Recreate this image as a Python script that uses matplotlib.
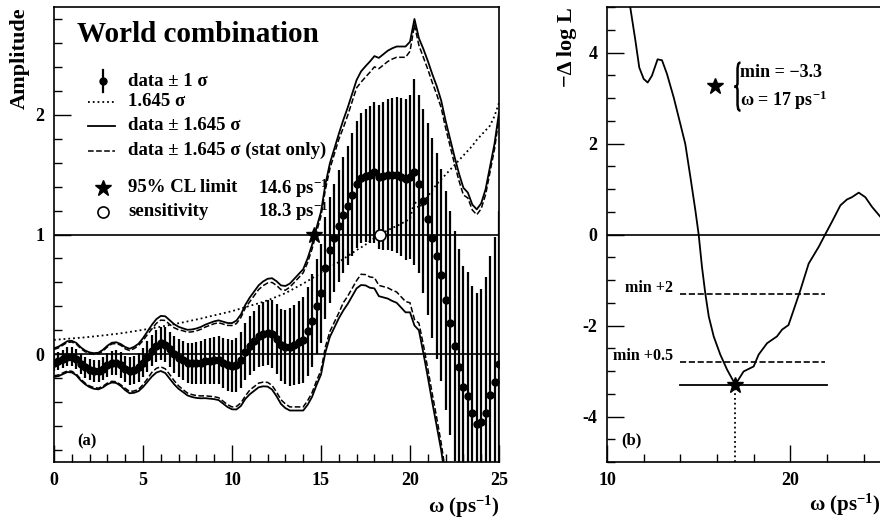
import numpy as np
import matplotlib
matplotlib.use('Agg')
import matplotlib.pyplot as plt
from matplotlib.path import Path
from matplotlib.patches import PathPatch
from matplotlib.transforms import Affine2D

plt.rcParams['font.family'] = 'Liberation Serif'
plt.rcParams['font.weight'] = 'bold'
plt.rcParams['axes.labelweight'] = 'bold'
plt.rcParams['mathtext.fontset'] = 'custom'
plt.rcParams['mathtext.rm'] = 'Liberation Serif:bold'
plt.rcParams['mathtext.it'] = 'Liberation Serif:bold'
plt.rcParams['mathtext.bf'] = 'Liberation Serif:bold'
plt.rcParams['mathtext.default'] = 'rm'
plt.rcParams['axes.unicode_minus'] = False

# --- panel (a): amplitude scan, one point every 0.25 ps^-1 ---
omega = np.linspace(0, 25, 101)
amplitude = [
    -0.07, -0.06, -0.04, -0.02, -0.02, -0.04, -0.08, -0.11, -0.13, -0.14,
    -0.14, -0.12, -0.09, -0.07, -0.07, -0.09, -0.12, -0.14, -0.13, -0.11,
    -0.07, -0.02, 0.03, 0.07, 0.09, 0.08, 0.04, 0.00, -0.03, -0.05,
    -0.07, -0.075, -0.075, -0.07, -0.06, -0.055, -0.05, -0.05, -0.07, -0.09,
    -0.10, -0.09, -0.05, 0.02, 0.07, 0.11, 0.15, 0.17, 0.18, 0.17,
    0.13, 0.08, 0.06, 0.06, 0.08, 0.10, 0.12, 0.19, 0.28, 0.40,
    0.51, 0.72, 0.87, 0.97, 1.07, 1.16, 1.24, 1.33, 1.42, 1.47,
    1.49, 1.50, 1.52, 1.48, 1.49, 1.50, 1.50, 1.50, 1.48, 1.46,
    1.48, 1.52, 1.42, 1.28, 1.13, 0.97, 0.82, 0.66, 0.45, 0.26,
    0.07, -0.11, -0.27, -0.35, -0.49, -0.58, -0.57, -0.49, -0.34, -0.23,
    -0.08,
]
# 1.645 sigma (total) and 1.645 sigma (stat only)
sens = [
    0.120, 0.123, 0.126, 0.129, 0.132, 0.135, 0.138, 0.141, 0.145, 0.149,
    0.153, 0.157, 0.161, 0.166, 0.170, 0.175, 0.180, 0.186, 0.192, 0.198,
    0.204, 0.210, 0.216, 0.223, 0.230, 0.237, 0.244, 0.251, 0.259, 0.266,
    0.274, 0.282, 0.290, 0.298, 0.307, 0.316, 0.325, 0.333, 0.342, 0.351,
    0.360, 0.371, 0.382, 0.393, 0.404, 0.415, 0.426, 0.438, 0.450, 0.465,
    0.480, 0.495, 0.510, 0.530, 0.550, 0.570, 0.590, 0.612, 0.635, 0.657,
    0.680, 0.702, 0.725, 0.747, 0.770, 0.795, 0.820, 0.845, 0.870, 0.892,
    0.915, 0.945, 0.970, 0.995, 1.015, 1.035, 1.055, 1.070, 1.090, 1.110,
    1.130, 1.280, 1.220, 1.270, 1.320, 1.370, 1.420, 1.460, 1.500, 1.540,
    1.580, 1.620, 1.660, 1.700, 1.740, 1.790, 1.830, 1.870, 1.910, 1.990,
    2.100,
]
sens_stat = [
    0.110, 0.113, 0.116, 0.119, 0.122, 0.125, 0.128, 0.131, 0.135, 0.139,
    0.143, 0.147, 0.151, 0.156, 0.160, 0.165, 0.165, 0.171, 0.177, 0.183,
    0.184, 0.185, 0.181, 0.188, 0.195, 0.202, 0.209, 0.221, 0.234, 0.246,
    0.254, 0.262, 0.270, 0.278, 0.287, 0.296, 0.305, 0.313, 0.322, 0.331,
    0.340, 0.346, 0.357, 0.368, 0.369, 0.380, 0.391, 0.403, 0.415, 0.430,
    0.445, 0.460, 0.475, 0.500, 0.520, 0.540, 0.560, 0.577, 0.600, 0.622,
    0.645, 0.657, 0.680, 0.702, 0.725, 0.730, 0.755, 0.780, 0.805, 0.802,
    0.825, 0.855, 0.880, 0.905, 0.925, 0.945, 0.965, 0.980, 1.000, 1.020,
    1.050, 1.230, 1.160, 1.200, 1.250, 1.300, 1.350, 1.400, 1.440, 1.480,
    1.520, 1.560, 1.600, 1.655, 1.695, 1.745, 1.785, 1.825, 1.865, 1.945,
    2.055,
]
limit_95 = 14.6
sensitivity = 18.3

# --- panel (b): likelihood scan ---
omega_b = [11.1, 11.27, 11.55, 11.76, 12.0, 12.22, 12.45, 12.76, 13.0, 13.27,
           13.64, 14.0, 14.27, 14.55, 14.82, 15.0, 15.18, 15.36, 15.55, 15.82,
           16.18, 16.55, 17.0, 17.45, 18.0, 18.27, 18.73, 19.27, 19.55, 19.9,
           20.18, 20.55, 21.0, 21.55, 21.9, 22.27, 22.73, 23.09, 23.36, 23.73,
           24.09, 24.45, 24.91, 25.0]
nll = [5.6, 4.99, 4.26, 3.67, 3.42, 3.34, 3.49, 3.85, 3.83, 3.53,
       3.01, 2.43, 1.99, 1.26, 0.53, 0.0, -0.71, -1.29, -1.80, -2.24,
       -2.64, -2.97, -3.30, -3.01, -2.90, -2.64, -2.39, -2.24, -2.09, -1.99,
       -1.66, -1.22, -0.64, -0.27, 0.0, 0.28, 0.64, 0.77, 0.82, 0.92,
       0.82, 0.61, 0.39, 0.34]
nll_min = -3.3
omega_min = 17.0

amp = np.array(amplitude)
s_tot = np.array(sens)
s_stat = np.array(sens_stat)
sigma = s_tot / 1.645

fig = plt.figure(figsize=(8.8, 5.24), dpi=100)
ax1 = fig.add_axes([54 / 880, 62 / 524, 445 / 880, 455 / 524])
ax2 = fig.add_axes([607 / 880, 62 / 524, 275 / 880, 455 / 524])

for ax in (ax1, ax2):
    ax.tick_params(which='both', direction='in', top=False, right=False,
                   labelsize=13, width=1)
    ax.tick_params(which='major', length=12, pad=7)
    ax.tick_params(which='minor', length=6)
    for sp in ax.spines.values():
        sp.set_linewidth(1.2)

# panel (a)
ax1.axhline(0, color='k', lw=1.2)
ax1.axhline(1, color='k', lw=1.2)
ax1.errorbar(omega, amp, yerr=sigma, fmt='o', color='k', ms=5,
             elinewidth=1.6, capsize=0)
ax1.plot(omega, s_tot, ':', color='k', lw=1.3)
ax1.plot(omega, amp + s_tot, '-', color='k', lw=1.3)
ax1.plot(omega, amp - s_tot, '-', color='k', lw=1.3)
ax1.plot(omega, amp + s_stat, '--', color='k', lw=1.1)
ax1.plot(omega, amp - s_stat, '--', color='k', lw=1.1)
ax1.plot([limit_95], [1], marker='*', color='k', ms=12)
ax1.plot([sensitivity], [1], marker='o', mfc='white', mec='k', mew=1.2, ms=8)

ax1.set_xlim(0, 25)
ax1.set_ylim(-0.9, 2.9)
ax1.set_xticks([0, 5, 10, 15, 20, 25])
ax1.set_xticks(np.arange(0, 26, 1), minor=True)
ax1.set_yticks([0, 1, 2])
ax1.set_yticks(np.arange(-0.8, 2.9, 0.2), minor=True)
ax1.set_xlabel(r'ω (ps$^{-1}$)', fontsize=15, loc='right')
ax1.set_ylabel('Amplitude', fontsize=16, loc='top')

ax1.text(1.3, 2.67, 'World combination', fontsize=21, va='center')
ax1.text(1.3, -0.73, '(a)', fontsize=12, va='center')

# hand-built legend, ROOT style
rows = [2.28, 2.11, 1.91, 1.70, 1.39, 1.19]
tx, mx = 4.16, 2.75
ax1.plot([mx, mx], [rows[0] - 0.09, rows[0] + 0.09], color='k', lw=1.6)
ax1.plot([mx], [rows[0]], 'o', color='k', ms=5)
ax1.plot([1.9, 3.45], [rows[1]] * 2, ':', color='k', lw=1.3)
ax1.plot([1.9, 3.45], [rows[2]] * 2, '-', color='k', lw=1.3)
ax1.plot([1.9, 3.45], [rows[3]] * 2, '--', color='k', lw=1.1)
ax1.plot([mx], [rows[4]], '*', color='k', ms=12)
ax1.plot([mx], [rows[5]], 'o', mfc='white', mec='k', mew=1.2, ms=8)
labels = ['data ± 1 σ', '1.645 σ', 'data ± 1.645 σ',
          'data ± 1.645 σ (stat only)', '95% CL limit', 'sensitivity']
for y, lab in zip(rows, labels):
    ax1.text(tx, y, lab, fontsize=13.5, va='center')
ax1.text(11.46, rows[4], r'%.1f ps$^{-1}$' % limit_95, fontsize=13.5, va='center')
ax1.text(11.46, rows[5], r'%.1f ps$^{-1}$' % sensitivity, fontsize=13.5, va='center')

# panel (b)
ax2.axhline(0, color='k', lw=1.2)
ax2.plot(omega_b, nll, '-', color='k', lw=1.3)
ax2.plot([14.0, 21.9], [nll_min + 2] * 2, '--', color='k', lw=1.2)
ax2.plot([14.0, 21.9], [nll_min + 0.5] * 2, '--', color='k', lw=1.2)
ax2.plot([14.0, 22.0], [nll_min] * 2, '-', color='k', lw=1.3)
ax2.plot([omega_min, omega_min], [-5, nll_min], ':', color='k', lw=1.3)
ax2.plot([omega_min], [nll_min], '*', color='k', ms=12)
ax2.text(13.6, nll_min + 2 + 0.12, 'min +2', fontsize=11.5, ha='right', va='center')
ax2.text(13.6, nll_min + 0.5 + 0.12, 'min +0.5', fontsize=11.5, ha='right', va='center')
ax2.plot([15.9], [3.27], '*', color='k', ms=12)
ax2.text(17.27, 3.56, 'min = \u22123.3', fontsize=13, va='center')
ax2.text(17.27, 2.95, r'ω = 17 ps$^{-1}$', fontsize=13, va='center')
ax2.text(10.8, -4.53, '(b)', fontsize=12, va='center')

ax2.set_xlim(10, 25)
ax2.set_ylim(-5, 5)
ax2.set_xticks([10, 20])
ax2.set_xticks(np.arange(10, 26, 2), minor=True)
ax2.set_yticks([-4, -2, 0, 2, 4])
ax2.set_yticks(np.arange(-5, 5.01, 0.5), minor=True)
ax2.set_xlabel(r'ω (ps$^{-1}$)', fontsize=15)
ax2.xaxis.set_label_coords(0.995, -0.065)
ax2.xaxis.label.set_horizontalalignment('right')
ax2.set_ylabel('\u2212Δ log L', fontsize=16, loc='top')

# curly brace in front of the two-line annotation (drawn in pixels)
bx, by = ax2.transData.transform((17.12, 3.25))
brace = Path(
    [(3, 24), (0, 24), (0, 20), (0, 14), (0, 4), (0, 1), (-1, 0), (-3, 0),
     (-1, 0), (0, -1), (0, -4), (0, -14), (0, -20), (0, -24), (3, -24)],
    [Path.MOVETO, Path.CURVE4, Path.CURVE4, Path.CURVE4, Path.LINETO,
     Path.CURVE4, Path.CURVE4, Path.CURVE4, Path.CURVE4, Path.CURVE4,
     Path.CURVE4, Path.LINETO, Path.CURVE4, Path.CURVE4, Path.CURVE4])
fig.patches.append(PathPatch(brace, fill=False, lw=1.8, color='k',
                             transform=Affine2D().translate(bx, by)))

fig.savefig('out.png', dpi=100)
